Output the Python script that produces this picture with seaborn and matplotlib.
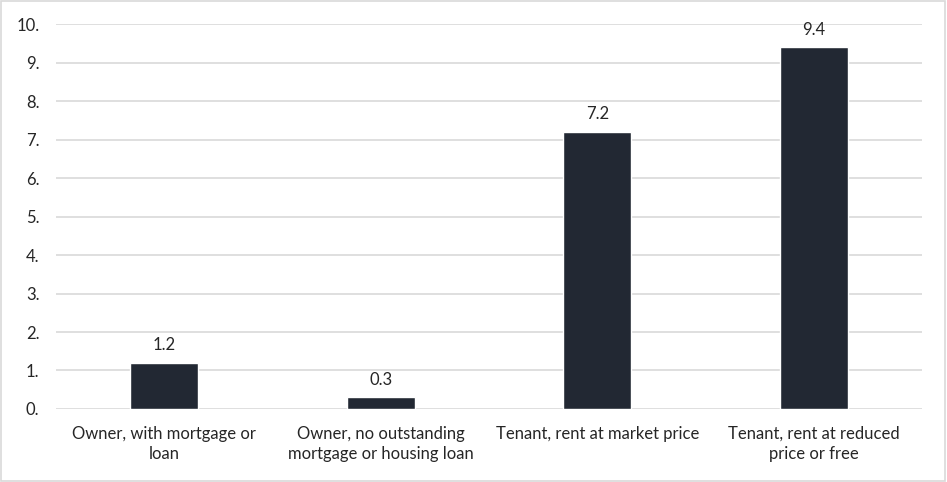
import matplotlib
matplotlib.use("Agg")
import matplotlib.pyplot as plt
import seaborn as sns
import pandas as pd
from matplotlib.patches import Rectangle

categories = ["Owner, with mortgage or\nloan",
              "Owner, no outstanding\nmortgage or housing loan",
              "Tenant, rent at market price",
              "Tenant, rent at reduced\nprice or free"]
values = [1.2, 0.3, 7.2, 9.4]
value_labels = ["1.2", "0.3", "7.2", "9.4"]
y_ticks = list(range(0, 11))
y_tick_labels = [f"{t}." for t in y_ticks]

sns.set_style("white")
plt.rcParams["font.family"] = ["Lato", "DejaVu Sans"]

fig = plt.figure(figsize=(9.47, 4.82), dpi=100)
ax = fig.add_axes([0.0591, 0.1515, 0.9145, 0.7985])

df = pd.DataFrame({"category": categories, "value": values})
sns.barplot(data=df, x="category", y="value", color="#222833",
            width=0.314, saturation=1, ax=ax, zorder=3)

for i, (v, lab) in enumerate(zip(values, value_labels)):
    ax.text(i, v + 0.25, lab, ha="center", va="bottom", fontsize=12,
            color="#262626")

ax.set_ylim(0, 10)
ax.set_xlim(-0.5, 3.5)
ax.set_yticks(y_ticks)
ax.set_yticklabels(y_tick_labels)
ax.yaxis.grid(True, color="#d9d9d9", linewidth=1.2, zorder=0)
ax.set_axisbelow(True)
for s in ax.spines.values():
    s.set_visible(False)
ax.tick_params(axis="both", length=0, labelsize=12, colors="#262626")
ax.tick_params(axis="y", pad=12)
ax.tick_params(axis="x", pad=12)
for t in ax.get_xticklabels():
    t.set_linespacing(1.35)
ax.set(xlabel="", ylabel="")

fig.patches.append(Rectangle((0.001, 0.002), 0.997, 0.996, transform=fig.transFigure,
                             fill=False, edgecolor="#d9d9d9", linewidth=1.2))

plt.savefig("out.png", dpi=100)
